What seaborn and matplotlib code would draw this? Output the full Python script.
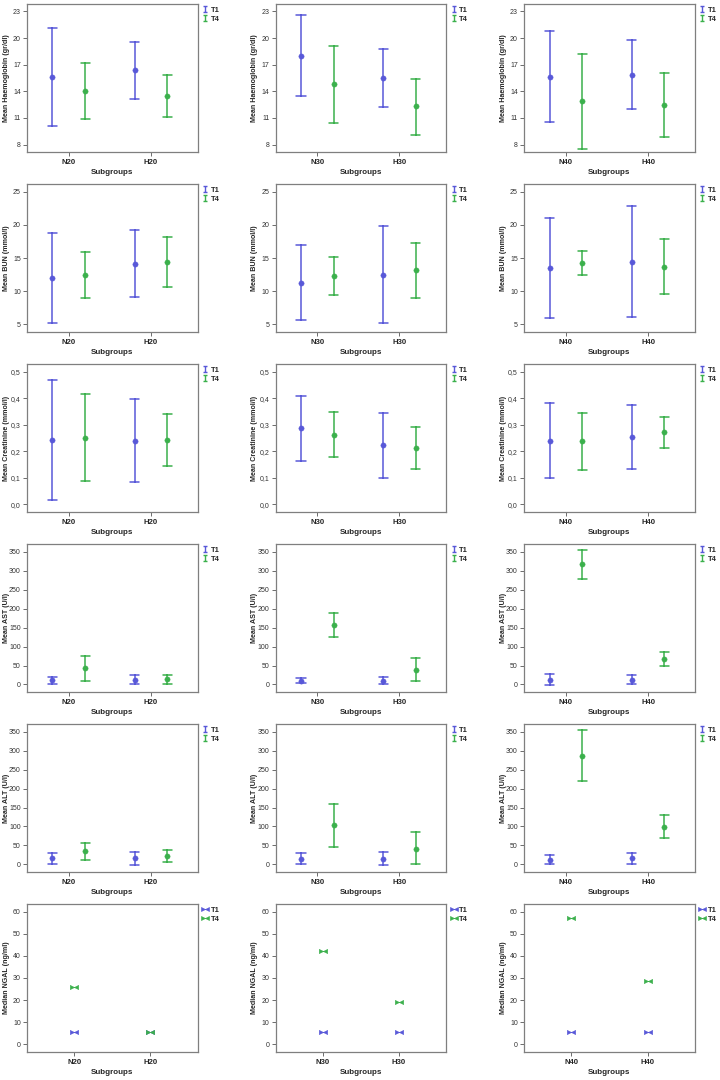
import numpy as np
import pandas as pd
import seaborn as sns
import matplotlib.pyplot as plt
from matplotlib.path import Path
from matplotlib.lines import Line2D
from matplotlib.ticker import FuncFormatter

sns.set_style("white")
plt.rcParams["font.family"] = ["Liberation Sans", "DejaVu Sans"]

BLUE = "#5858d8"
GREEN = "#3bb04c"
SPINE = "#7f7f7f"

times = ["T1", "T4"]
subgroups = ["N20", "H20", "N30", "H30", "N40", "H40"]
columns = [["N20", "H20"], ["N30", "H30"], ["N40", "H40"]]

# values in subgroup order N20, H20, N30, H30, N40, H40
hb_mean = {"T1": [15.58, 16.37, 18.02, 15.50, 15.61, 15.88],
           "T4": [14.03, 13.46, 14.78, 12.30, 12.86, 12.45]}
hb_lo = {"T1": [10.07, 13.09, 13.43, 12.22, 10.52, 12.00],
         "T4": [10.83, 11.10, 10.49, 9.13, 7.51, 8.90]}
hb_hi = {"T1": [21.12, 19.61, 22.59, 18.78, 20.74, 19.80],
         "T4": [17.23, 15.87, 19.08, 15.42, 18.18, 16.03]}

bun_mean = {"T1": [11.98, 14.15, 11.3, 12.5, 13.5, 14.4],
            "T4": [12.44, 14.40, 12.3, 13.2, 14.3, 13.7]}
bun_lo = {"T1": [5.15, 9.12, 5.7, 5.2, 5.9, 6.1],
          "T4": [8.92, 10.58, 9.4, 9.0, 12.5, 9.6]}
bun_hi = {"T1": [18.82, 19.17, 17.0, 19.8, 21.1, 22.8],
          "T4": [15.95, 18.12, 15.1, 17.3, 16.1, 17.9]}

cre_mean = {"T1": [0.241, 0.239, 0.287, 0.222, 0.240, 0.253],
            "T4": [0.250, 0.242, 0.263, 0.212, 0.237, 0.272]}
cre_lo = {"T1": [0.016, 0.083, 0.163, 0.100, 0.098, 0.133],
          "T4": [0.088, 0.144, 0.177, 0.133, 0.130, 0.212]}
cre_hi = {"T1": [0.469, 0.396, 0.410, 0.345, 0.383, 0.373],
          "T4": [0.415, 0.342, 0.350, 0.290, 0.343, 0.330]}

ast_mean = {"T1": [11.4, 13.0, 10.0, 10.0, 13.0, 13.0],
            "T4": [43.0, 15.0, 157.0, 39.0, 316.6, 66.8]}
ast_lo = {"T1": [1.0, 1.0, 3.0, 2.0, -2.0, 0.0],
          "T4": [10.5, 2.6, 125.0, 8.0, 278.0, 48.0]}
ast_hi = {"T1": [21.0, 23.7, 18.0, 20.0, 28.0, 24.0],
          "T4": [75.6, 24.6, 188.0, 70.0, 355.0, 85.0]}

alt_mean = {"T1": [16.7, 16.7, 15.0, 15.0, 13.0, 16.7],
            "T4": [34.3, 22.9, 103.0, 42.0, 286.7, 99.4]}
alt_lo = {"T1": [2.6, -1.0, 0.0, -2.0, 0.0, 1.0],
          "T4": [12.3, 7.0, 47.0, 0.0, 220.0, 68.6]}
alt_hi = {"T1": [29.0, 33.4, 30.0, 34.0, 26.0, 29.0],
          "T4": [55.4, 38.7, 158.0, 85.0, 353.5, 131.0]}

ngal_median = {"T1": [5.4, 5.4, 5.4, 5.4, 5.4, 5.4],
               "T4": [25.8, 5.4, 42.4, 19.3, 57.0, 28.5]}

ylabels = ["Mean Haemoglobin (gr/dl)", "Mean BUN (mmol/l)", "Mean Creatinine (mmol/l)",
           "Mean AST (U/l)", "Mean ALT (U/l)", "Median NGAL (ng/ml)"]
yranges = [(7.2, 23.8), (3.9, 26.1), (-0.028, 0.528), (-19, 369), (-19, 369), (-3.3, 63.3)]
yticks = [np.arange(8, 24, 3), np.arange(5, 26, 5), np.arange(0, 0.51, 0.1),
          np.arange(0, 351, 50), np.arange(0, 351, 50), np.arange(0, 61, 10)]

I_PATH = Path([(-0.5, 1), (0.5, 1), (0, 1), (0, -1), (-0.5, -1), (0.5, -1)],
              [Path.MOVETO, Path.LINETO, Path.MOVETO, Path.LINETO, Path.MOVETO, Path.LINETO])
BOWTIE = Path([(-1, 0.5), (0, 0), (-1, -0.5), (-1, 0.5),
               (1, 0.5), (0, 0), (1, -0.5), (1, 0.5)],
              [Path.MOVETO, Path.LINETO, Path.LINETO, Path.CLOSEPOLY,
               Path.MOVETO, Path.LINETO, Path.LINETO, Path.CLOSEPOLY])


def long_frame(mean, lo, hi):
    # three rows per cell: lower, mean, upper -> median gives mean, min/max give the bar
    rows = []
    for t in times:
        for g, m, l, h in zip(subgroups, mean[t], lo[t], hi[t]):
            for v in (l, m, h):
                rows.append({"Subgroups": g, "time": t, "value": v})
    return pd.DataFrame(rows)


def ngal_frame(med):
    rows = []
    for t in times:
        for g, m in zip(subgroups, med[t]):
            rows.append({"Subgroups": g, "time": t, "value": m})
    return pd.DataFrame(rows)


frames = [long_frame(hb_mean, hb_lo, hb_hi),
          long_frame(bun_mean, bun_lo, bun_hi),
          long_frame(cre_mean, cre_lo, cre_hi),
          long_frame(ast_mean, ast_lo, ast_hi),
          long_frame(alt_mean, alt_lo, alt_hi),
          ngal_frame(ngal_median)]

fig, axes = plt.subplots(6, 3, figsize=(7.2, 10.8), dpi=100)
fig.subplots_adjust(left=0.0375, right=0.965, top=0.996, bottom=0.0262,
                    wspace=0.456, hspace=0.221)

for r in range(6):
    for c in range(3):
        ax = axes[r, c]
        df = frames[r]
        sub = df[df["Subgroups"].isin(columns[c])]
        if r < 5:
            sns.pointplot(data=sub, x="Subgroups", y="value", hue="time",
                          order=columns[c], hue_order=times, palette=[BLUE, GREEN],
                          estimator="median", errorbar=lambda v: (v.min(), v.max()),
                          dodge=0.4, linestyle="none", markers="o", markersize=3.8,
                          markeredgewidth=0.3, capsize=0.11, err_kws={"linewidth": 1.1},
                          legend=False, ax=ax)
            ax.set_xlim(-0.51, 1.57)
            handles = [Line2D([], [], color=col, marker=I_PATH, linestyle="none",
                              markersize=4.8, markeredgewidth=1.0, fillstyle="none")
                       for col in (BLUE, GREEN)]
        else:
            sns.pointplot(data=sub, x="Subgroups", y="value", hue="time",
                          order=columns[c], hue_order=times, palette=[BLUE, GREEN],
                          errorbar=None, dodge=False, linestyle="none",
                          markers=BOWTIE, markersize=6.0, markeredgewidth=0.4,
                          legend=False, ax=ax)
            ax.set_xlim(-0.62, 1.62)
            handles = [Line2D([], [], color=col, marker=BOWTIE, linestyle="none",
                              markersize=5.8, markeredgewidth=0.4) for col in (BLUE, GREEN)]

        ax.set_ylim(*yranges[r])
        ax.set_yticks(yticks[r])
        if r == 2:
            ax.yaxis.set_major_formatter(FuncFormatter(lambda v, p: f"{v:.1f}".replace(".", ",")))
        else:
            ax.yaxis.set_major_formatter(FuncFormatter(lambda v, p: f"{v:.0f}"))

        ax.set_ylabel(ylabels[r], fontsize=5.1, fontweight="bold")
        ax.set_xlabel("Subgroups", fontsize=5.8, fontweight="bold")
        ax.yaxis.set_label_coords(-0.10, 0.5)
        ax.xaxis.set_label_coords(0.5, -0.115)

        for s in ax.spines.values():
            s.set_visible(True)
            s.set_color(SPINE)
            s.set_linewidth(0.9)
        ax.tick_params(axis="both", which="both", direction="out", length=3,
                       width=0.6, color="#555555", left=True, bottom=True)
        ax.tick_params(axis="y", labelsize=5.0, labelcolor="#333333", pad=1.5)
        ax.tick_params(axis="x", labelsize=5.6, pad=2)
        for lab in ax.get_xticklabels():
            lab.set_fontweight("bold")
        ax.grid(False)

        ax.legend(handles, times, loc="upper left", bbox_to_anchor=(1.01, 1.0),
                  frameon=False, handlelength=0.9, handletextpad=0.3,
                  borderaxespad=0.2, borderpad=0.1, labelspacing=0.2,
                  prop={"size": 5.4, "weight": "bold"})

fig.savefig("out.png", dpi=100)
